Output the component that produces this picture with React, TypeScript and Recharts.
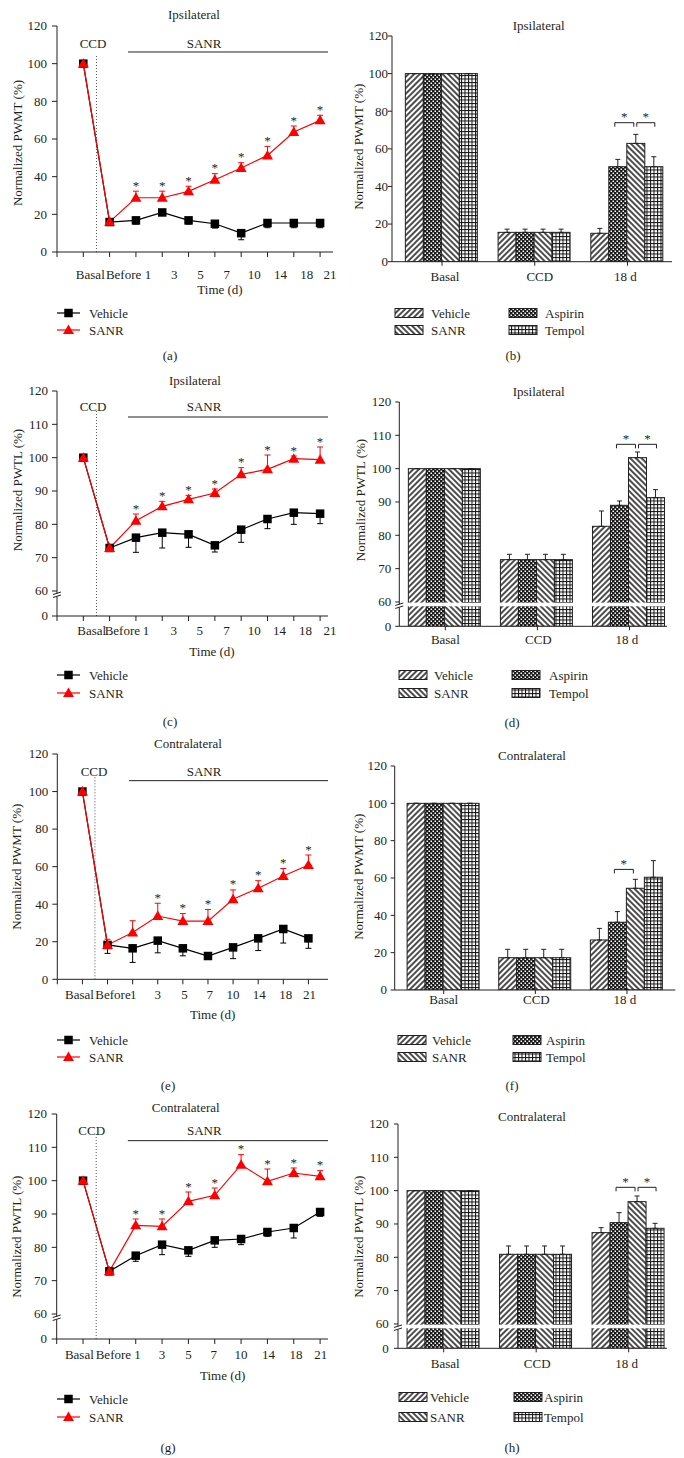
import React from "react";
import {
  LineChart,
  Line,
  BarChart,
  Bar,
  XAxis,
  YAxis,
  ErrorBar,
  ReferenceLine,
} from "recharts";

const FONT = "'Liberation Serif', 'Times New Roman', serif";
const INK = "#231f20";
const RED = "#ff0000";

const timeLabels = ["Basal", "Before", "1", "3", "5", "7", "10", "14", "18", "21"];
const groupLabels = ["Basal", "CCD", "18 d"];

// (a) ipsilateral PWMT
const aVehicle = [100, 15.9, 16.8, 21, 16.8, 15, 10, 15.4, 15.4, 15.4];
const aVehicleErr = [0, 1.5, 2, 1.5, 2, 2.3, 3.5, 2.5, 2.5, 2.5];
const aSanr = [100, 16, 28.8, 28.8, 32.2, 38.4, 44.6, 51.3, 63.7, 69.9];
const aSanrErr = [0, 0, 3.5, 3.5, 2.7, 3.2, 2.8, 4.8, 3.2, 2.7];
const aStars = [2, 3, 4, 5, 6, 7, 8, 9];

// (c) ipsilateral PWTL
const cVehicle = [100, 72.9, 76.0, 77.5, 77.0, 73.7, 78.4, 81.6, 83.5, 83.2];
const cVehicleErr = [0, 1, 4.4, 4.6, 3.9, 2, 3.8, 2.9, 3.5, 3];
const cSanr = [100, 72.9, 81.1, 85.4, 87.5, 89.4, 95, 96.5, 99.7, 99.4];
const cSanrErr = [0, 0.5, 2, 1.5, 1.2, 1.2, 2, 4.3, 0.8, 3.8];
const cStars = [2, 3, 4, 5, 6, 7, 8, 9];

// (e) contralateral PWMT
const eVehicle = [100, 18.3, 16.5, 20.6, 16.5, 12.4, 17, 21.8, 26.8, 21.8];
const eVehicleErr = [0, 4.5, 7.5, 6.5, 4, 1.5, 6, 6.5, 7.5, 5.3];
const eSanr = [100, 18.3, 24.9, 33.7, 31, 31, 42.6, 48.5, 55, 60.9];
const eSanrErr = [0, 3, 6.3, 6.8, 4, 6.2, 5, 4, 4, 5.3];
const eStars = [3, 4, 5, 6, 7, 8, 9];

// (g) contralateral PWTL
const gVehicle = [100, 72.8, 77.5, 80.8, 79.1, 82.1, 82.5, 84.6, 85.8, 90.6];
const gVehicleErr = [0, 1, 1.7, 3, 1.8, 2.1, 1.7, 1.3, 3, 1.3];
const gSanr = [100, 72.8, 86.6, 86.3, 93.8, 95.6, 104.8, 99.8, 102.3, 101.3];
const gSanrErr = [0, 0.5, 1.9, 2.2, 2.8, 2.2, 3, 3.7, 1.5, 1.7];
const gStars = [2, 3, 4, 5, 6, 7, 8, 9];

// (b) ipsilateral PWMT bars
const bVehicle = [100, 15.6, 15.1];
const bVehicleErr = [0, 1.7, 2.6];
const bAspirin = [100, 15.6, 50.5];
const bAspirinErr = [0, 1.7, 3.9];
const bSanr = [100, 15.6, 62.9];
const bSanrErr = [0, 1.7, 4.8];
const bTempol = [100, 15.6, 50.5];
const bTempolErr = [0, 1.7, 5.3];
const bSig = [[1, 2], [2, 3]];
const bSigLevel = 73.9;

// (d) ipsilateral PWTL bars
const dVehicle = [100, 72.7, 82.7];
const dVehicleErr = [0, 1.6, 4.6];
const dAspirin = [100, 72.7, 89];
const dAspirinErr = [0, 1.6, 1.3];
const dSanr = [100, 72.7, 103.3];
const dSanrErr = [0, 1.6, 1.7];
const dTempol = [100, 72.7, 91.3];
const dTempolErr = [0, 1.6, 2.4];
const dSig = [[1, 2], [2, 3]];
const dSigLevel = 107.3;

// (f) contralateral PWMT bars
const fVehicle = [100, 17.3, 26.8];
const fVehicleErr = [0, 4.5, 6.2];
const fAspirin = [100, 17.3, 36.3];
const fAspirinErr = [0, 4.5, 5.7];
const fSanr = [100, 17.3, 54.5];
const fSanrErr = [0, 4.5, 4.8];
const fTempol = [100, 17.3, 60.4];
const fTempolErr = [0, 4.5, 8.9];
const fSig = [[1, 2]];
const fSigLevel = 64.6;

// (h) contralateral PWTL bars
const hVehicle = [100, 80.9, 87.4];
const hVehicleErr = [0, 2.5, 1.5];
const hAspirin = [100, 80.9, 90.4];
const hAspirinErr = [0, 2.5, 3];
const hSanr = [100, 80.9, 96.7];
const hSanrErr = [0, 2.5, 1.7];
const hTempol = [100, 80.9, 88.7];
const hTempolErr = [0, 2.5, 1.5];
const hSig = [[1, 2], [2, 3]];
const hSigLevel = 101;

// layout of each panel (page pixels)
const geoA = { top: 26, bottom: 252, axisX: 57, plotRight: 333, xMax: 9.49, broken: false, labelGap: 22.5, dx: [7, 14, 12, 12, 12, 12, 13, 13, 13, 10], ccdTop: 104.6, sanrY: 106.2, sanrFrom: 1.7, sanrTo: 9.3, yGap: 10 };
const geoC = { top: 390.7, bottom: 615.7, axisX: 57, plotRight: 328, xMax: 9.3, broken: true, labelGap: 15, dx: [8.4, 12.7, 10, 11.6, 11.3, 11.7, 13, 12, 11.7, 10], ccdTop: 114.5, sanrY: 112.2, sanrFrom: 1.7, sanrTo: 9.3, yGap: 9 };
const geoE = { top: 754, bottom: 979.3, axisX: 57.3, plotRight: 328, xMax: 9.78, broken: false, labelGap: 15.7, dx: [-3, 5.5, 0.6, 0, 1.6, 1.7, 0, 1, 2.4, 1], ccdTop: 107.9, sanrY: 105.8, sanrFrom: 1.86, sanrTo: 9.78, yGap: 9 };
const geoG = { top: 1114.3, bottom: 1339.3, axisX: 56.7, plotRight: 328, xMax: 9.3, broken: true, labelGap: 15.7, dx: [-3.7, 4, 1.7, 0, 0, -1, 0, 1, 2.3, 0.7], ccdTop: 114.4, sanrY: 112, sanrFrom: 1.7, sanrTo: 9.3, yGap: 9.7 };

const geoB = { top: 36, bottom: 261.7, axisX: 392, axisEnd: 672, broken: false, padL: 3.65, padR: -1.85, catGap: 9.7, labelGap: 15, dx: [3, 5, -2], yGap: 4 };
const geoD = { top: 401.7, bottom: 626, axisX: 399.3, axisEnd: 667, broken: true, padL: 0, padR: -8.5, catGap: 9.05, labelGap: 13.3, dx: [0, 1, -2.5], yGap: 8 };
const geoF = { top: 766, bottom: 990, axisX: 394.7, axisEnd: 675.3, broken: false, padL: 3.2, padR: 2.5, catGap: 9.2, labelGap: 10, dx: [0, 1, -2], yGap: 7.7 };
const geoH = { top: 1124, bottom: 1348.3, axisX: 398, axisEnd: 667, broken: true, padL: -0.55, padR: -7.95, catGap: 9.6, labelGap: 15, dx: [1.6, 1, -2], yGap: 9.3 };

const tri = (cx: number, cy: number) =>
  `M${cx},${cy - 5.5}L${cx + 5.5},${cy + 4}L${cx - 5.5},${cy + 4}Z`;

function YTick({ x, y, payload, broken, gap }: any) {
  const label = broken && payload.value < 60 ? "0" : String(payload.value);
  const ax = x + gap;
  return (
    <g>
      <text x={x} y={y + 4.4} textAnchor="end" fontSize={13} fontFamily={FONT} fill={INK}>
        {label}
      </text>
      {broken && payload.value === 60 ? (
        <g>
          <rect x={ax - 2} y={y + 2.5} width={4} height={3} fill="#fff" />
          <line x1={ax - 4} y1={y + 3.5} x2={ax + 4} y2={y + 1} stroke={INK} />
          <line x1={ax - 4} y1={y + 6.5} x2={ax + 4} y2={y + 4} stroke={INK} />
        </g>
      ) : null}
    </g>
  );
}

function LinePanel({ g, vehicle, vehicleErr, sanr, sanrErr, stars }: any) {
  const yMin = g.broken ? 52.5 : 0;
  const ppu = (g.bottom - g.top) / (120 - yMin);
  const boxTop = g.top - 10;
  const boxH = g.bottom - boxTop + 40;
  const rows = timeLabels.map((_, i) => ({
    x: i,
    vehicle: vehicle[i],
    vehicleErr: [vehicleErr[i], 0],
    sanr: sanr[i],
    sanrErr: [0, sanrErr[i]],
  }));
  const yTicks = g.broken ? [52.5, 60, 70, 80, 90, 100, 110, 120] : [0, 20, 40, 60, 80, 100, 120];
  const xTicks = [-1, 0, 1, 2, 3, 4, 5, 6, 7, 8, 9];

  const squareDot = (p: any) => (
    <rect key={`v${p.index}`} x={p.cx - 4.25} y={p.cy - 4.25} width={8.5} height={8.5} fill="#000" />
  );
  const triangleDot = (p: any) => (
    <g key={`s${p.index}`}>
      <path d={tri(p.cx, p.cy)} fill={RED} />
      {stars.includes(p.index) ? (
        <text x={p.cx} y={p.cy - sanrErr[p.index] * ppu - 1.5} textAnchor="middle" fontSize={13} fontFamily={FONT} fill={INK}>
          *
        </text>
      ) : null}
    </g>
  );

  return (
    <div style={{ position: "absolute", left: 0, top: boxTop }}>
      <LineChart
        width={342}
        height={boxH}
        data={rows}
        margin={{ top: 10, right: 342 - g.plotRight, bottom: 0, left: 0 }}
      >
        <XAxis
          type="number"
          dataKey="x"
          domain={[-1, g.xMax]}
          ticks={xTicks}
          interval={0}
          height={40}
          tickSize={5}
          tickMargin={0}
          stroke={INK}
          tick={(p: any) =>
            p.payload.value < 0 ? (
              <g />
            ) : (
              <text
                x={p.x + g.dx[p.payload.value]}
                y={p.y - 5 + g.labelGap + 4.4}
                textAnchor="middle"
                fontSize={13}
                fontFamily={FONT}
                fill={INK}
              >
                {timeLabels[p.payload.value]}
              </text>
            )
          }
        />
        <YAxis
          type="number"
          domain={[yMin, 120]}
          ticks={yTicks}
          interval={0}
          width={g.axisX}
          tickSize={5}
          tickMargin={g.yGap - 5}
          stroke={INK}
          allowDataOverflow
          tick={(p: any) => <YTick x={p.x} y={p.y} payload={p.payload} broken={g.broken} gap={g.yGap} />}
        />
        <ReferenceLine
          segment={[{ x: 0.5, y: yMin }, { x: 0.5, y: g.ccdTop }]}
          stroke="#555"
          strokeDasharray="1 2"
        />
        <ReferenceLine
          segment={[{ x: g.sanrFrom, y: g.sanrY }, { x: g.sanrTo, y: g.sanrY }]}
          stroke={INK}
        />
        <Line
          dataKey="vehicle"
          stroke="#000"
          strokeWidth={1.2}
          dot={squareDot}
          activeDot={false}
          isAnimationActive={false}
        >
          <ErrorBar dataKey="vehicleErr" direction="y" width={3} stroke="#000" strokeWidth={1} isAnimationActive={false} />
        </Line>
        <Line
          dataKey="sanr"
          stroke={RED}
          strokeWidth={1.2}
          dot={triangleDot}
          activeDot={false}
          isAnimationActive={false}
        >
          <ErrorBar dataKey="sanrErr" direction="y" width={3} stroke={RED} strokeWidth={1} isAnimationActive={false} />
        </Line>
      </LineChart>
    </div>
  );
}

const barSeries = [
  { key: "vehicle", fill: "url(#hatchVehicle)" },
  { key: "aspirin", fill: "url(#hatchAspirin)" },
  { key: "sanr", fill: "url(#hatchSanr)" },
  { key: "tempol", fill: "url(#hatchTempol)" },
];

function BarPanel({ g, values, errors, sig, sigLevel }: any) {
  const yMin = g.broken ? 52.7 : 0;
  const ppu = (g.bottom - g.top) / (120 - yMin);
  const boxTop = g.top - 10;
  const boxH = g.bottom - boxTop + 40;
  const rows = groupLabels.map((label, i) => {
    const row: any = { label };
    barSeries.forEach((s, k) => {
      row[s.key] = values[k][i];
      row[s.key + "Err"] = [0, errors[k][i]];
    });
    return row;
  });
  const yTicks = g.broken ? [52.7, 60, 70, 80, 90, 100, 110, 120] : [0, 20, 40, 60, 80, 100, 120];

  const makeShape = (key: string, fill: string) => (p: any) => {
    const { x, y, width, height, index } = p;
    const val = p.payload ? p.payload[key] : 0;
    const bottom = y + height;
    return (
      <g key={`${key}${index}`}>
        <rect x={x} y={y} width={width} height={height} fill={fill} stroke={INK} strokeWidth={1} />
        {g.broken ? (
          <rect x={x - 1} y={bottom - (59.8 - yMin) * ppu} width={width + 2} height={1.1 * ppu} fill="#fff" />
        ) : null}
        {key === "sanr" && index === 2
          ? sig.map(([a, b]: number[], k: number) => {
              const ca = x + (a - 2) * width + width / 2 + (a === 2 ? 1 : -3);
              const cb = x + (b - 2) * width + width / 2 + (b === 2 ? -2 : 1);
              const by = y - (sigLevel - val) * ppu;
              return (
                <g key={`sig${k}`}>
                  <path d={`M${ca},${by + 4}L${ca},${by}L${cb},${by}L${cb},${by + 4}`} fill="none" stroke={INK} strokeWidth={1} />
                  <text x={(ca + cb) / 2} y={by - 1.5} textAnchor="middle" fontSize={13} fontFamily={FONT} fill={INK}>
                    *
                  </text>
                </g>
              );
            })
          : null}
      </g>
    );
  };

  return (
    <div style={{ position: "absolute", left: 342, top: boxTop }}>
      <BarChart
        width={342}
        height={boxH}
        data={rows}
        barGap={0}
        barCategoryGap={g.catGap}
        margin={{ top: 10, right: 684 - g.axisEnd, bottom: 0, left: 0 }}
      >
        <XAxis
          dataKey="label"
          type="category"
          padding={{ left: g.padL, right: g.padR }}
          interval={0}
          height={40}
          tickSize={4}
          tickMargin={0}
          stroke={INK}
          tick={(p: any) => {
            const i = groupLabels.indexOf(p.payload.value);
            return (
              <text
                x={p.x + g.dx[i]}
                y={p.y - 4 + g.labelGap + 4.4}
                textAnchor="middle"
                fontSize={13}
                fontFamily={FONT}
                fill={INK}
              >
                {p.payload.value}
              </text>
            );
          }}
        />
        <YAxis
          type="number"
          domain={[yMin, 120]}
          ticks={yTicks}
          interval={0}
          width={g.axisX - 342}
          tickSize={4}
          tickMargin={Math.max(0, g.yGap - 4)}
          stroke={INK}
          allowDataOverflow
          tick={(p: any) => (
            <YTick x={p.x} y={p.y} payload={p.payload} broken={g.broken} gap={Math.max(4, g.yGap)} />
          )}
        />
        {barSeries.map((s) => (
          <Bar
            key={s.key}
            dataKey={s.key}
            fill={s.fill}
            stroke={INK}
            isAnimationActive={false}
            shape={makeShape(s.key, s.fill)}
          >
            <ErrorBar dataKey={s.key + "Err"} direction="y" width={2.5} stroke={INK} strokeWidth={1} isAnimationActive={false} />
          </Bar>
        ))}
      </BarChart>
    </div>
  );
}

function Txt({ x, y, children, anchor = "middle", rotate = false }: any) {
  return (
    <text
      x={x}
      y={y}
      textAnchor={anchor}
      dominantBaseline="central"
      fontSize={13}
      fontFamily={FONT}
      fill={INK}
      transform={rotate ? `rotate(-90 ${x} ${y})` : undefined}
    >
      {children}
    </text>
  );
}

function LineLegend({ y1, y2 }: any) {
  return (
    <g>
      <line x1={57} x2={80} y1={y1} y2={y1} stroke="#000" strokeWidth={1.2} />
      <rect x={64.25} y={y1 - 4.25} width={8.5} height={8.5} fill="#000" />
      <Txt x={89} y={y1} anchor="start">Vehicle</Txt>
      <line x1={57} x2={80} y1={y2} y2={y2} stroke={RED} strokeWidth={1.2} />
      <path d={tri(68.5, y2)} fill={RED} />
      <Txt x={89} y={y2} anchor="start">SANR</Txt>
    </g>
  );
}

function BarLegend({ y1, y2, x1, t1, x2, t2 }: any) {
  const items = [
    { x: x1, t: t1, y: y1, fill: "url(#hatchVehicle)", name: "Vehicle" },
    { x: x1, t: t1, y: y2, fill: "url(#hatchSanr)", name: "SANR" },
    { x: x2, t: t2, y: y1, fill: "url(#hatchAspirin)", name: "Aspirin" },
    { x: x2, t: t2, y: y2, fill: "url(#hatchTempol)", name: "Tempol" },
  ];
  return (
    <g>
      {items.map((it) => (
        <g key={it.name}>
          <rect x={it.x} y={it.y - 4.5} width={28} height={9} fill={it.fill} stroke={INK} strokeWidth={1} />
          <Txt x={it.t} y={it.y} anchor="start">{it.name}</Txt>
        </g>
      ))}
    </g>
  );
}

export default function App() {
  return (
    <div style={{ position: "absolute", left: 0, top: 0, width: 684, height: 1458, background: "#fff", overflow: "hidden" }}>
      <svg width={0} height={0} style={{ position: "absolute" }}>
        <defs>
          <pattern id="hatchVehicle" width={4} height={4} patternUnits="userSpaceOnUse" patternTransform="rotate(45)">
            <rect width={4} height={4} fill="#fff" />
            <line x1={1} y1={0} x2={1} y2={4} stroke="#111" strokeWidth={1.5} />
          </pattern>
          <pattern id="hatchSanr" width={4} height={4} patternUnits="userSpaceOnUse" patternTransform="rotate(-45)">
            <rect width={4} height={4} fill="#fff" />
            <line x1={1} y1={0} x2={1} y2={4} stroke="#111" strokeWidth={1.5} />
          </pattern>
          <pattern id="hatchAspirin" width={4} height={4} patternUnits="userSpaceOnUse">
            <rect width={4} height={4} fill="#1a1a1a" />
            <rect x={0.5} y={0.5} width={1.5} height={1.5} fill="#fff" />
            <rect x={2.5} y={2.5} width={1.5} height={1.5} fill="#fff" />
          </pattern>
          <pattern id="hatchTempol" width={3.5} height={3.5} patternUnits="userSpaceOnUse">
            <rect width={3.5} height={3.5} fill="#fff" />
            <line x1={0.5} y1={0} x2={0.5} y2={3.5} stroke="#111" strokeWidth={1} />
            <line x1={0} y1={0.5} x2={3.5} y2={0.5} stroke="#111" strokeWidth={1} />
          </pattern>
        </defs>
      </svg>

      <LinePanel g={geoA} vehicle={aVehicle} vehicleErr={aVehicleErr} sanr={aSanr} sanrErr={aSanrErr} stars={aStars} />
      <LinePanel g={geoC} vehicle={cVehicle} vehicleErr={cVehicleErr} sanr={cSanr} sanrErr={cSanrErr} stars={cStars} />
      <LinePanel g={geoE} vehicle={eVehicle} vehicleErr={eVehicleErr} sanr={eSanr} sanrErr={eSanrErr} stars={eStars} />
      <LinePanel g={geoG} vehicle={gVehicle} vehicleErr={gVehicleErr} sanr={gSanr} sanrErr={gSanrErr} stars={gStars} />

      <BarPanel g={geoB} values={[bVehicle, bAspirin, bSanr, bTempol]} errors={[bVehicleErr, bAspirinErr, bSanrErr, bTempolErr]} sig={bSig} sigLevel={bSigLevel} />
      <BarPanel g={geoD} values={[dVehicle, dAspirin, dSanr, dTempol]} errors={[dVehicleErr, dAspirinErr, dSanrErr, dTempolErr]} sig={dSig} sigLevel={dSigLevel} />
      <BarPanel g={geoF} values={[fVehicle, fAspirin, fSanr, fTempol]} errors={[fVehicleErr, fAspirinErr, fSanrErr, fTempolErr]} sig={fSig} sigLevel={fSigLevel} />
      <BarPanel g={geoH} values={[hVehicle, hAspirin, hSanr, hTempol]} errors={[hVehicleErr, hAspirinErr, hSanrErr, hTempolErr]} sig={hSig} sigLevel={hSigLevel} />

      <svg width={684} height={1458} style={{ position: "absolute", left: 0, top: 0, pointerEvents: "none" }}>
        {/* panel titles */}
        <Txt x={194} y={14}>Ipsilateral</Txt>
        <Txt x={538.7} y={25}>Ipsilateral</Txt>
        <Txt x={195} y={380}>Ipsilateral</Txt>
        <Txt x={538.7} y={391.7}>Ipsilateral</Txt>
        <Txt x={188} y={743}>Contralateral</Txt>
        <Txt x={532} y={755}>Contralateral</Txt>
        <Txt x={185.7} y={1107.3}>Contralateral</Txt>
        <Txt x={532} y={1116.7}>Contralateral</Txt>

        {/* treatment labels */}
        <Txt x={93} y={43}>CCD</Txt>
        <Txt x={204} y={43}>SANR</Txt>
        <Txt x={93} y={406.5}>CCD</Txt>
        <Txt x={204} y={406.5}>SANR</Txt>
        <Txt x={94} y={771.5}>CCD</Txt>
        <Txt x={204} y={771}>SANR</Txt>
        <Txt x={91.7} y={1130}>CCD</Txt>
        <Txt x={204.3} y={1130}>SANR</Txt>

        {/* axis titles */}
        <Txt x={220} y={289.5}>Time (d)</Txt>
        <Txt x={212} y={651.7}>Time (d)</Txt>
        <Txt x={212.7} y={1014}>Time (d)</Txt>
        <Txt x={222.7} y={1375}>Time (d)</Txt>
        <Txt x={17} y={143} rotate>Normalized PWMT (%)</Txt>
        <Txt x={358.7} y={146.7} rotate>Normalized PWMT (%)</Txt>
        <Txt x={17} y={490} rotate>Normalized PWTL (%)</Txt>
        <Txt x={360.3} y={500} rotate>Normalized PWTL (%)</Txt>
        <Txt x={17} y={866.7} rotate>Normalized PWMT (%)</Txt>
        <Txt x={358.7} y={876.7} rotate>Normalized PWMT (%)</Txt>
        <Txt x={17} y={1236.7} rotate>Normalized PWTL (%)</Txt>
        <Txt x={358.7} y={1236.7} rotate>Normalized PWTL (%)</Txt>

        {/* legends */}
        <LineLegend y1={313} y2={330} />
        <LineLegend y1={675} y2={693} />
        <LineLegend y1={1040} y2={1057} />
        <LineLegend y1={1399} y2={1417} />
        <BarLegend y1={313} y2={330} x1={395} t1={431} x2={509} t2={545} />
        <BarLegend y1={675} y2={693} x1={399} t1={434} x2={512} t2={549} />
        <BarLegend y1={1040} y2={1057} x1={398} t1={432} x2={513} t2={546} />
        <BarLegend y1={1397} y2={1417} x1={399} t1={430} x2={514} t2={544} />

        {/* captions */}
        <Txt x={170} y={355}>(a)</Txt>
        <Txt x={513} y={355}>(b)</Txt>
        <Txt x={170} y={721}>(c)</Txt>
        <Txt x={512} y={722}>(d)</Txt>
        <Txt x={168} y={1085}>(e)</Txt>
        <Txt x={512} y={1085}>(f)</Txt>
        <Txt x={168} y={1447}>(g)</Txt>
        <Txt x={512} y={1447}>(h)</Txt>
      </svg>
    </div>
  );
}
